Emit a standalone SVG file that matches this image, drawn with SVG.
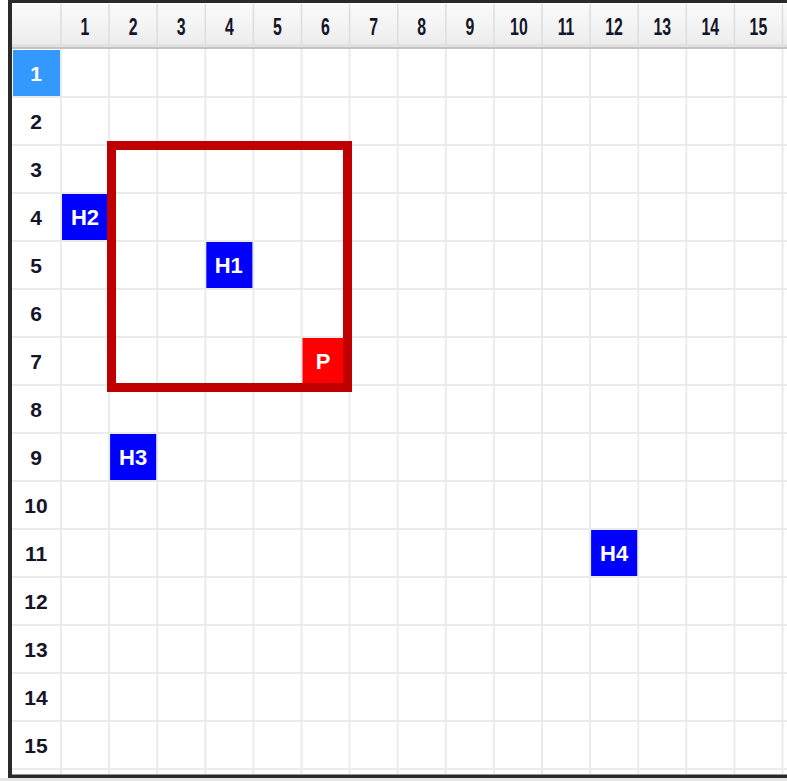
<svg xmlns="http://www.w3.org/2000/svg" width="787" height="781" viewBox="0 0 787 781">
  <defs>
    <linearGradient id="hdrGrad" x1="0" y1="0" x2="0" y2="1">
      <stop offset="0" stop-color="#fafafa"/>
      <stop offset="0.5" stop-color="#f4f4f4"/>
      <stop offset="1" stop-color="#ececec"/>
    </linearGradient>
  </defs>
  <style>
    .grid line { stroke: #ebebeb; stroke-width: 2; }
    .hsep line { stroke: #dddddd; stroke-width: 1.5; }
    .colhdr text { font-family: "Liberation Sans", Arial, sans-serif; font-weight: bold; font-size: 24px; fill: #15152a; text-anchor: middle; }
    .rowhdr text { font-family: "Liberation Sans", Arial, sans-serif; font-weight: bold; font-size: 21px; fill: #15152a; text-anchor: middle; }
    .cell text { font-family: "Liberation Sans", Arial, sans-serif; font-weight: bold; font-size: 22px; fill: #ffffff; text-anchor: middle; }
    .blue { fill: #0000ff; }
    .red { fill: #ff0000; }
  </style>

  <!-- background -->
  <rect x="0" y="0" width="787" height="781" fill="#ffffff"/>
  <rect x="0" y="778" width="787" height="3" fill="#e6e6e6"/>

  <!-- header band -->
  <rect x="12" y="3" width="775" height="42" fill="url(#hdrGrad)"/>
  <rect x="12" y="44" width="775" height="2" fill="#e2e2e2"/>
  <rect x="12" y="46.5" width="775" height="2.5" fill="#c4c4c4"/>

  <!-- grid -->
  <g class="grid" id="grid">
    <line x1="61" y1="49" x2="61" y2="774"/>
    <line x1="109.1" y1="49" x2="109.1" y2="774"/>
    <line x1="157.2" y1="49" x2="157.2" y2="774"/>
    <line x1="205.3" y1="49" x2="205.3" y2="774"/>
    <line x1="253.4" y1="49" x2="253.4" y2="774"/>
    <line x1="301.5" y1="49" x2="301.5" y2="774"/>
    <line x1="349.6" y1="49" x2="349.6" y2="774"/>
    <line x1="397.7" y1="49" x2="397.7" y2="774"/>
    <line x1="445.8" y1="49" x2="445.8" y2="774"/>
    <line x1="493.9" y1="49" x2="493.9" y2="774"/>
    <line x1="542" y1="49" x2="542" y2="774"/>
    <line x1="590.1" y1="49" x2="590.1" y2="774"/>
    <line x1="638.2" y1="49" x2="638.2" y2="774"/>
    <line x1="686.3" y1="49" x2="686.3" y2="774"/>
    <line x1="734.4" y1="49" x2="734.4" y2="774"/>
    <line x1="782.5" y1="49" x2="782.5" y2="774"/>
    <line x1="12" y1="97" x2="787" y2="97"/>
    <line x1="12" y1="145" x2="787" y2="145"/>
    <line x1="12" y1="193" x2="787" y2="193"/>
    <line x1="12" y1="241" x2="787" y2="241"/>
    <line x1="12" y1="289" x2="787" y2="289"/>
    <line x1="12" y1="337" x2="787" y2="337"/>
    <line x1="12" y1="385" x2="787" y2="385"/>
    <line x1="12" y1="433" x2="787" y2="433"/>
    <line x1="12" y1="481" x2="787" y2="481"/>
    <line x1="12" y1="529" x2="787" y2="529"/>
    <line x1="12" y1="577" x2="787" y2="577"/>
    <line x1="12" y1="625" x2="787" y2="625"/>
    <line x1="12" y1="673" x2="787" y2="673"/>
    <line x1="12" y1="721" x2="787" y2="721"/>
    <line x1="12" y1="769" x2="787" y2="769"/>
  </g>

  <!-- header separators -->
  <g class="hsep">
    <line x1="61" y1="4" x2="61" y2="46"/>
    <line x1="109.1" y1="4" x2="109.1" y2="46"/>
    <line x1="157.2" y1="4" x2="157.2" y2="46"/>
    <line x1="205.3" y1="4" x2="205.3" y2="46"/>
    <line x1="253.4" y1="4" x2="253.4" y2="46"/>
    <line x1="301.5" y1="4" x2="301.5" y2="46"/>
    <line x1="349.6" y1="4" x2="349.6" y2="46"/>
    <line x1="397.7" y1="4" x2="397.7" y2="46"/>
    <line x1="445.8" y1="4" x2="445.8" y2="46"/>
    <line x1="493.9" y1="4" x2="493.9" y2="46"/>
    <line x1="542" y1="4" x2="542" y2="46"/>
    <line x1="590.1" y1="4" x2="590.1" y2="46"/>
    <line x1="638.2" y1="4" x2="638.2" y2="46"/>
    <line x1="686.3" y1="4" x2="686.3" y2="46"/>
    <line x1="734.4" y1="4" x2="734.4" y2="46"/>
    <line x1="782.5" y1="4" x2="782.5" y2="46"/>
  </g>

  <!-- column headers -->
  <g class="colhdr" id="column-headers">
    <text transform="translate(85,35) scale(0.66,1)">1</text>
    <text transform="translate(133.1,35) scale(0.66,1)">2</text>
    <text transform="translate(181.2,35) scale(0.66,1)">3</text>
    <text transform="translate(229.3,35) scale(0.66,1)">4</text>
    <text transform="translate(277.4,35) scale(0.66,1)">5</text>
    <text transform="translate(325.5,35) scale(0.66,1)">6</text>
    <text transform="translate(373.6,35) scale(0.66,1)">7</text>
    <text transform="translate(421.7,35) scale(0.66,1)">8</text>
    <text transform="translate(469.8,35) scale(0.66,1)">9</text>
    <text transform="translate(518.9,35) scale(0.66,1)">10</text>
    <text transform="translate(566,35) scale(0.66,1)">11</text>
    <text transform="translate(614.1,35) scale(0.66,1)">12</text>
    <text transform="translate(662.2,35) scale(0.66,1)">13</text>
    <text transform="translate(710.3,35) scale(0.66,1)">14</text>
    <text transform="translate(758.4,35) scale(0.66,1)">15</text>
  </g>

  <!-- row headers -->
  <rect x="13" y="50" width="47" height="46" fill="#3399ff"/>
  <g class="rowhdr" id="row-headers">
    <text x="36" y="81" style="fill:#ffffff">1</text>
    <text x="36" y="129">2</text>
    <text x="36" y="177">3</text>
    <text x="36" y="225">4</text>
    <text x="36" y="273">5</text>
    <text x="36" y="321">6</text>
    <text x="36" y="369">7</text>
    <text x="36" y="417">8</text>
    <text x="36" y="465">9</text>
    <text x="36" y="513">10</text>
    <text x="36" y="561">11</text>
    <text x="36" y="609">12</text>
    <text x="36" y="657">13</text>
    <text x="36" y="705">14</text>
    <text x="36" y="753">15</text>
  </g>

  <!-- cells -->
  <g class="cell" id="H1">
    <rect class="blue" x="206.3" y="242" width="46.1" height="46"/>
    <text x="228.8" y="273">H1</text>
  </g>
  <g class="cell" id="H2">
    <rect class="blue" x="62" y="194" width="46.1" height="46"/>
    <text x="85" y="225">H2</text>
  </g>
  <g class="cell" id="H3">
    <rect class="blue" x="110.1" y="434" width="46.1" height="46"/>
    <text x="133.1" y="465">H3</text>
  </g>
  <g class="cell" id="H4">
    <rect class="blue" x="591.1" y="530" width="46.1" height="46"/>
    <text x="614.1" y="561">H4</text>
  </g>
  <g class="cell" id="P">
    <rect class="red" x="302.5" y="338" width="46.1" height="46"/>
    <text x="323" y="369">P</text>
  </g>

  <!-- region box -->
  <g id="region">
    <rect x="111.5" y="145.5" width="236" height="242" fill="none" stroke="#c00000" stroke-width="9"/>
  </g>

  <!-- outer frame -->
  <rect x="8" y="0" width="779" height="3" fill="#2a2a2a"/>
  <rect x="8" y="0" width="4" height="778" fill="#2a2a2a"/>
  <rect x="8" y="774.5" width="779" height="3.5" fill="#2a2a2a"/>
</svg>
